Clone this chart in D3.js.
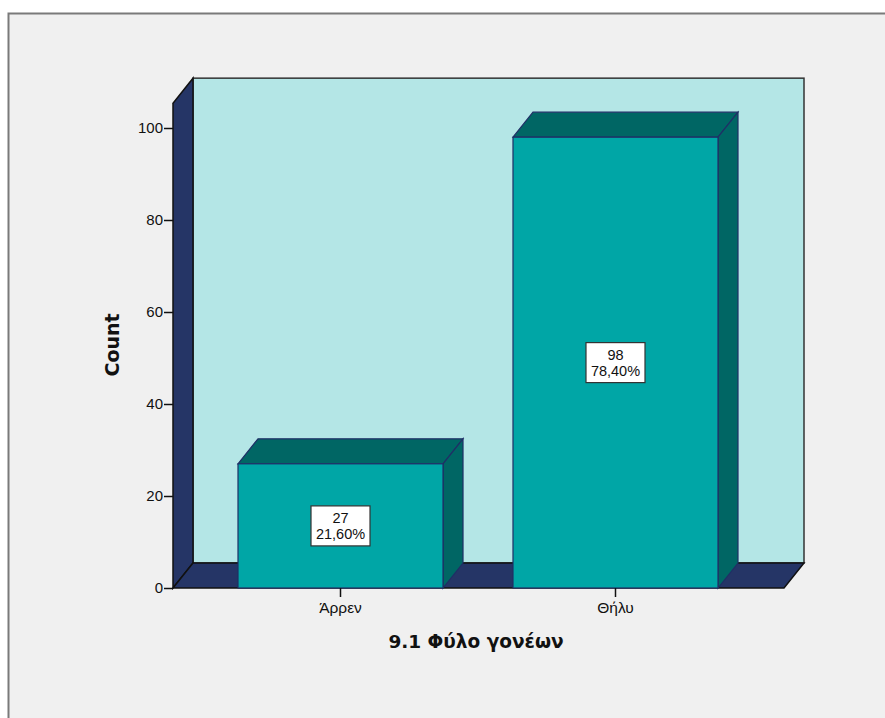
<!DOCTYPE html>
<html lang="el">
<head>
    <meta charset="UTF-8">
    <title>9.1 Φύλο γονέων</title>
    <script src="https://cdn.jsdelivr.net/npm/d3@7/dist/d3.min.js"></script>
    <style>
        body { margin: 0; background: #fff; }
    </style>
</head>
<body>
    <svg width="885" height="718"></svg>
    <script>
        // data
        var categories = ["Άρρεν", "Θήλυ"];
        var counts = [27, 98];
        var percents = ["21,60%", "78,40%"];
        var yTicks = [0, 20, 40, 60, 80, 100];

        var svg = d3.select("svg");
        var bodyFont = "'Liberation Sans', Arial, sans-serif";
        var titleFont = "'DejaVu Sans', Verdana, sans-serif";

        // outer frame
        svg.append("rect")
            .attr("x", 8.5).attr("y", 13.5)
            .attr("width", 900).attr("height", 720)
            .attr("fill", "#f0f0f0")
            .attr("stroke", "#7a7a7a")
            .attr("stroke-width", 2);

        var left = 173, right = 784, depthX = 20, depthY = -25;

        var y = d3.scaleLinear().domain([0, 100]).range([588, 128]);
        var yTop = y(105.4);

        var x = d3.scaleBand()
            .domain(categories)
            .range([238, 718])
            .paddingInner(0.2545)
            .paddingOuter(0);

        // back wall
        svg.append("rect")
            .attr("x", left + depthX).attr("y", yTop + depthY)
            .attr("width", right - left).attr("height", y(0) - yTop)
            .attr("fill", "#b4e6e6")
            .attr("stroke", "#333").attr("stroke-width", 1.5);

        // left wall
        svg.append("path")
            .attr("d", d3.line()([
                [left, y(0)], [left, yTop],
                [left + depthX, yTop + depthY], [left + depthX, y(0) + depthY]
            ]) + "Z")
            .attr("fill", "#253566")
            .attr("stroke", "#111").attr("stroke-width", 1.5);

        // floor
        svg.append("path")
            .attr("d", d3.line()([
                [left, y(0)], [left + depthX, y(0) + depthY],
                [right + depthX, y(0) + depthY], [right, y(0)]
            ]) + "Z")
            .attr("fill", "#253566")
            .attr("stroke", "#111").attr("stroke-width", 1.5);

        // bars
        var bars = svg.append("g").selectAll("g")
            .data(categories)
            .join("g");

        bars.append("path")
            .attr("d", function(d, i) {
                var x0 = x(d), x1 = x(d) + x.bandwidth(), t = y(counts[i]);
                return d3.line()([[x0, t], [x0 + depthX, t + depthY], [x1 + depthX, t + depthY], [x1, t]]) + "Z";
            })
            .attr("fill", "#006664")
            .attr("stroke", "#1f2f66").attr("stroke-width", 1.2);

        bars.append("path")
            .attr("d", function(d, i) {
                var x1 = x(d) + x.bandwidth(), t = y(counts[i]);
                return d3.line()([[x1, t], [x1 + depthX, t + depthY], [x1 + depthX, y(0) + depthY], [x1, y(0)]]) + "Z";
            })
            .attr("fill", "#006664")
            .attr("stroke", "#1f2f66").attr("stroke-width", 1.2);

        bars.append("rect")
            .attr("x", function(d) { return x(d); })
            .attr("y", function(d, i) { return y(counts[i]); })
            .attr("width", x.bandwidth())
            .attr("height", function(d, i) { return y(0) - y(counts[i]); })
            .attr("fill", "#00a6a6")
            .attr("stroke", "#1f2f66").attr("stroke-width", 1.2);

        // value labels
        bars.each(function(d, i) {
            var g = d3.select(this);
            var cx = x(d) + x.bandwidth() / 2;
            var cy = (y(counts[i]) + y(0)) / 2;
            g.append("rect")
                .attr("x", cx - 29.5).attr("y", cy - 20)
                .attr("width", 59).attr("height", 40)
                .attr("fill", "#fff")
                .attr("stroke", "#333").attr("stroke-width", 1.2);
            g.append("text")
                .attr("x", cx).attr("y", cy - 2.5)
                .attr("text-anchor", "middle")
                .style("font-family", bodyFont)
                .style("font-size", "14.5px")
                .attr("fill", "#111")
                .text(counts[i]);
            g.append("text")
                .attr("x", cx).attr("y", cy + 13.5)
                .attr("text-anchor", "middle")
                .style("font-family", bodyFont)
                .style("font-size", "14.5px")
                .attr("fill", "#111")
                .text(percents[i]);
        });

        // y axis
        var yAxis = svg.append("g")
            .attr("transform", "translate(" + left + ",0)")
            .call(d3.axisLeft(y).tickValues(yTicks).tickSize(9).tickPadding(1));
        yAxis.select(".domain").remove();
        yAxis.selectAll(".tick line").attr("stroke", "#111").attr("stroke-width", 1.5);
        yAxis.selectAll(".tick text")
            .style("font-family", bodyFont)
            .style("font-size", "15px").attr("fill", "#111");

        // x axis
        var xAxis = svg.append("g")
            .attr("transform", "translate(0," + y(0) + ")")
            .call(d3.axisBottom(x).tickSize(9).tickPadding(5));
        xAxis.select(".domain").remove();
        xAxis.selectAll(".tick line").attr("stroke", "#111").attr("stroke-width", 1.5);
        xAxis.selectAll(".tick text")
            .style("font-family", bodyFont)
            .style("font-size", "15.5px").attr("fill", "#111");

        // titles
        svg.append("text")
            .attr("x", 476).attr("y", 648)
            .attr("text-anchor", "middle")
            .style("font-family", titleFont)
            .style("font-size", "18.5px").style("font-weight", "bold")
            .attr("fill", "#111")
            .text("9.1 Φύλο γονέων");

        svg.append("text")
            .attr("transform", "translate(119,345) rotate(-90)")
            .attr("text-anchor", "middle")
            .style("font-family", titleFont)
            .style("font-size", "19px").style("font-weight", "bold")
            .attr("fill", "#111")
            .text("Count");
    </script>
</body>
</html>
